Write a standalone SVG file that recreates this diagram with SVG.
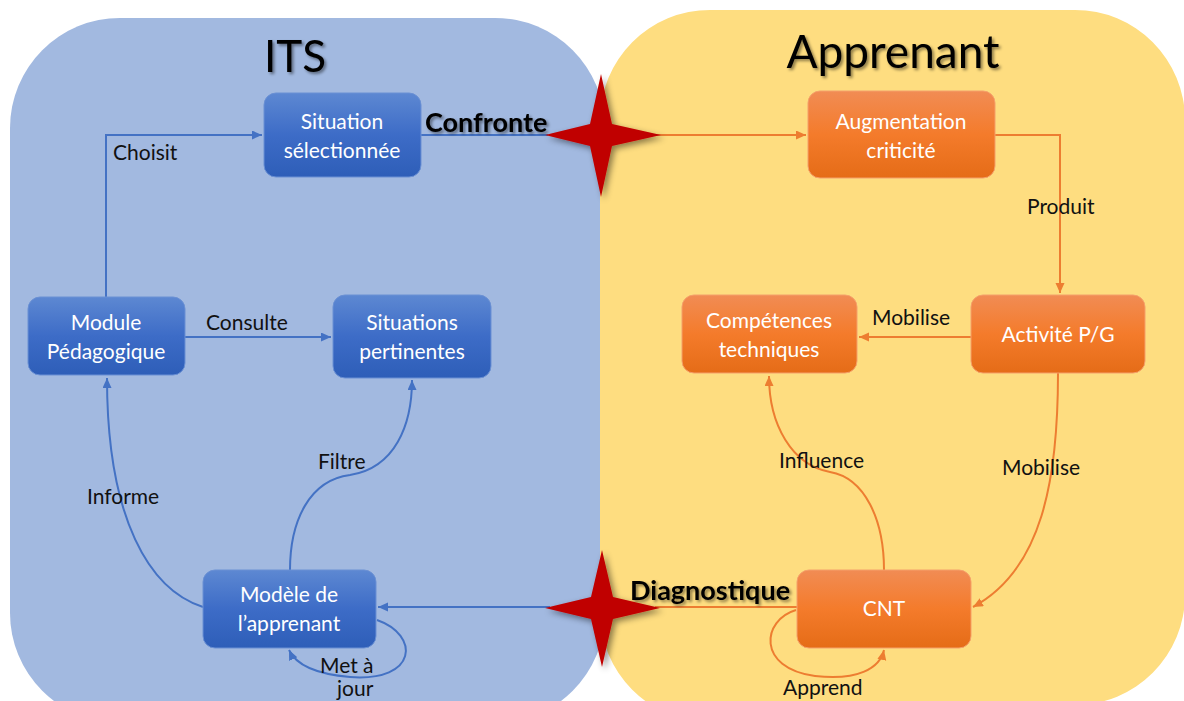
<svg xmlns="http://www.w3.org/2000/svg" width="1184" height="701" viewBox="0 0 1184 701">
<defs>
<linearGradient id="gb" x1="0" y1="0" x2="0" y2="1"><stop offset="0" stop-color="#5d88d2"/><stop offset="0.5" stop-color="#3d6cc7"/><stop offset="1" stop-color="#2e5eb8"/></linearGradient>
<linearGradient id="go" x1="0" y1="0" x2="0" y2="1"><stop offset="0" stop-color="#f18c54"/><stop offset="0.5" stop-color="#f47b2b"/><stop offset="1" stop-color="#e56c17"/></linearGradient>
<filter id="sh" x="-30%" y="-30%" width="160%" height="160%"><feDropShadow dx="3" dy="3" stdDeviation="3" flood-color="#000" flood-opacity="0.45"/></filter>
<filter id="ts" x="-20%" y="-30%" width="140%" height="160%"><feDropShadow dx="2" dy="2" stdDeviation="1.5" flood-color="#000" flood-opacity="0.45"/></filter>
<marker id="ab" markerWidth="10" markerHeight="10" refX="10" refY="4.5" orient="auto" markerUnits="userSpaceOnUse"><path d="M0,0 L10,4.5 L0,9 z" fill="#4472c4"/></marker>
<marker id="ao" markerWidth="10" markerHeight="10" refX="10" refY="4.5" orient="auto" markerUnits="userSpaceOnUse"><path d="M0,0 L10,4.5 L0,9 z" fill="#ed7d31"/></marker>
</defs>
<style>
.nb{fill:url(#gb);stroke:#6a90d4;stroke-width:1}
.no{fill:url(#go);stroke:#f5a06a;stroke-width:1}
.nt{font-family:Lato,"Liberation Sans",sans-serif;font-size:21px;fill:#fff;text-anchor:middle}
.lb{font-family:Lato,"Liberation Sans",sans-serif;font-size:21px;fill:#111}
.bd{font-family:Lato,"Liberation Sans",sans-serif;font-size:27px;font-weight:bold;fill:#000}
.ti{font-family:Lato,"Liberation Sans",sans-serif;fill:#000;text-anchor:middle}
.cb{fill:none;stroke:#4472c4;stroke-width:2}
.co{fill:none;stroke:#ed7d31;stroke-width:2}
.star{fill:#c00000}
</style>
<rect width="1184" height="701" fill="#fff"/>
<g id="panel-its"><rect x="10" y="18" width="595" height="705" rx="110" fill="#a2b9e0"/>
<text class="ti" x="295" y="72" font-size="44" filter="url(#ts)">ITS</text></g>
<g id="panel-apprenant"><path d="M710,10 H1075 A110,110 0 0 1 1185,120 V595 A110,110 0 0 1 1075,705 L710,722 A110,110 0 0 1 600,612 V120 A110,110 0 0 1 710,10 Z" fill="#fedd80"/>
<text class="ti" x="893" y="68" font-size="46" filter="url(#ts)">Apprenant</text></g>
<g id="connectors">
<path class="cb" d="M106,297 V135 H262" marker-end="url(#ab)"/>
<path class="cb" d="M185,337 H331" marker-end="url(#ab)"/>
<path class="cb" d="M421,135 H548"/>
<path class="co" d="M655,135 H806" marker-end="url(#ao)"/>
<path class="co" d="M995,135 H1060 V293" marker-end="url(#ao)"/>
<path class="co" d="M971,337 H859" marker-end="url(#ao)"/>
<path class="co" d="M1058,373 C1058,480 1042,570 973,607" marker-end="url(#ao)"/>
<path class="co" d="M884,570 C884,520 865,478 830,472 C792,465 769,425 769,376" marker-end="url(#ao)"/>
<path class="co" d="M797,607 H655"/>
<path class="cb" d="M550,607 H378" marker-end="url(#ab)"/>
<path class="co" d="M796,610 C762,620 756,668 815,676 C858,681 880,668 884,650" marker-end="url(#ao)"/>
<path class="cb" d="M377,620 C420,635 418,682 350,677 C315,674 296,665 289,650" marker-end="url(#ab)"/>
<path class="cb" d="M203,607 C150,590 107,520 107,378" marker-end="url(#ab)"/>
<path class="cb" d="M290,570 C290,520 310,480 350,475 C395,468 412,425 412,380" marker-end="url(#ab)"/>
<text class="lb" x="113" y="160">Choisit</text>
<text class="lb" x="206" y="330">Consulte</text>
<text class="bd" x="425" y="132" filter="url(#ts)">Confronte</text>
<text class="lb" x="1027" y="214">Produit</text>
<text class="lb" x="872" y="325">Mobilise</text>
<text class="lb" x="1002" y="475">Mobilise</text>
<text class="lb" x="779" y="468">Influence</text>
<text class="lb" x="318" y="469">Filtre</text>
<text class="lb" x="87" y="504">Informe</text>
<text class="bd" x="630" y="600" filter="url(#ts)">Diagnostique</text>
<text class="lb" x="783" y="695">Apprend</text>
<text class="lb" x="320" y="673">Met à</text>
<text class="lb" x="337" y="696">jour</text>
<path class="star" filter="url(#sh)" d="M545,135 L590,124 L601,74 L612,124 L661,135 L612,146 L601,197 L590,146 Z"/>
<path class="star" filter="url(#sh)" d="M545,608 L591,597 L602,550 L613,597 L660,608 L613,619 L602,667 L591,619 Z"/>
</g>
<g id="n-situation-selectionnee"><rect class="nb" x="264" y="93" width="157" height="84" rx="12"/><text class="nt" x="342" y="129">Situation</text><text class="nt" x="342" y="158">sélectionnée</text></g>
<g id="n-module-pedagogique"><rect class="nb" x="28" y="297" width="157" height="78" rx="12"/><text class="nt" x="106" y="330">Module</text><text class="nt" x="106" y="359">Pédagogique</text></g>
<g id="n-situations-pertinentes"><rect class="nb" x="333" y="295" width="158" height="83" rx="12"/><text class="nt" x="412" y="330">Situations</text><text class="nt" x="412" y="359">pertinentes</text></g>
<g id="n-modele-apprenant"><rect class="nb" x="203" y="570" width="173" height="78" rx="12"/><text class="nt" x="289" y="602">Modèle de</text><text class="nt" x="289" y="631">l’apprenant</text></g>
<g id="n-augmentation-criticite"><rect class="no" x="808" y="91" width="187" height="87" rx="12"/><text class="nt" x="901" y="129">Augmentation</text><text class="nt" x="901" y="158">criticité</text></g>
<g id="n-competences-techniques"><rect class="no" x="682" y="295" width="175" height="78" rx="12"/><text class="nt" x="769" y="328">Compétences</text><text class="nt" x="769" y="357">techniques</text></g>
<g id="n-activite-pg"><rect class="no" x="971" y="295" width="174" height="78" rx="12"/><text class="nt" x="1058" y="342">Activité P/G</text></g>
<g id="n-cnt"><rect class="no" x="797" y="570" width="174" height="78" rx="12"/><text class="nt" x="884" y="616">CNT</text></g>
</svg>
